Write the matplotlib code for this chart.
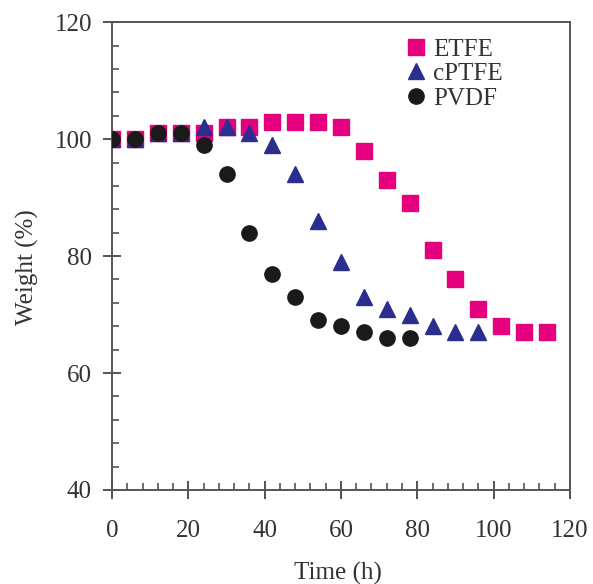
import numpy as np
import matplotlib
matplotlib.use('Agg')
import matplotlib.pyplot as plt
from matplotlib.ticker import MultipleLocator

# data
etfe_t = [0, 6, 12, 18, 24, 30, 36, 42, 48, 54, 60, 66, 72, 78, 84, 90, 96, 102, 108, 114]
etfe_w = [100, 100, 101, 101, 101, 102, 102, 103, 103, 103, 102, 98, 93, 89, 81, 76, 71, 68, 67, 67]

cptfe_t = [0, 6, 12, 18, 24, 30, 36, 42, 48, 54, 60, 66, 72, 78, 84, 90, 96]
cptfe_w = [100, 100, 101, 101, 102, 102, 101, 99, 94, 86, 79, 73, 71, 70, 68, 67, 67]

pvdf_t = [0, 6, 12, 18, 24, 30, 36, 42, 48, 54, 60, 66, 72, 78]
pvdf_w = [100, 100, 101, 101, 99, 94, 84, 77, 73, 69, 68, 67, 66, 66]

plt.rcParams['font.family'] = ['Liberation Serif', 'DejaVu Serif']
fs = 18
txt = '#333333'

fig = plt.figure(figsize=(5.93, 5.84), dpi=100)
ax = fig.add_axes([0.189, 0.161, 0.772, 0.801])

ax.plot(etfe_t, etfe_w, 's', color='#e5007d', markersize=11, label='ETFE', zorder=3)
ax.plot(cptfe_t, cptfe_w, '^', color='#2b2e8f', markersize=11, label='cPTFE', zorder=4)
ax.plot(pvdf_t, pvdf_w, 'o', color='#1a1a1a', markersize=11, label='PVDF', zorder=5)

ax.set_xlim(0, 120)
ax.set_ylim(40, 120)
ax.xaxis.set_major_locator(MultipleLocator(20))
ax.xaxis.set_minor_locator(MultipleLocator(4))
ax.yaxis.set_major_locator(MultipleLocator(20))
ax.yaxis.set_minor_locator(MultipleLocator(4))
ax.tick_params(which='major', direction='inout', length=13, width=1.3, colors='#444444',
               labelsize=fs, labelcolor=txt)
ax.tick_params(axis='x', which='major', pad=15)
ax.tick_params(axis='y', which='major', pad=8)
ax.tick_params(which='minor', direction='in', length=5, width=1.1, colors='#444444')
for s in ax.spines.values():
    s.set_color('#555555')
    s.set_linewidth(1.4)

ax.set_xlabel('Time (h)', fontsize=fs, color=txt)
ax.set_ylabel('Weight (%)', fontsize=fs, color=txt)
ax.xaxis.set_label_coords(0.493, -0.153)
ax.yaxis.set_label_coords(-0.160, 0.476)

leg = ax.legend(loc='upper left', frameon=False, fontsize=fs, handletextpad=0.2,
                handlelength=1.0, labelspacing=0.08, borderpad=0, borderaxespad=0,
                bbox_to_anchor=(0.636, 0.966))
for t in leg.get_texts():
    t.set_color(txt)

fig.savefig('out.png', dpi=100)
